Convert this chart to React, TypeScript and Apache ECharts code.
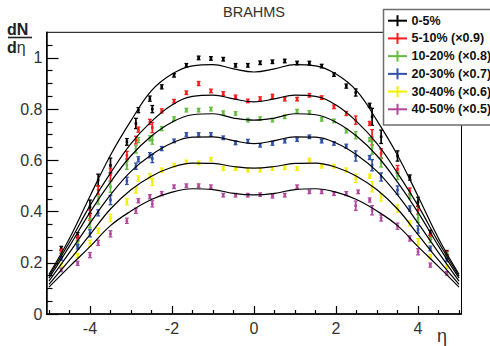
import React, { useEffect, useRef } from "react";
import * as echarts from "echarts";

const FONT = '"Liberation Sans", Arial, Helvetica, sans-serif';

const seriesNames = ["0-5%", "5-10% (×0.9)", "10-20% (×0.8)", "20-30% (×0.7)", "30-40% (×0.6)", "40-50% (×0.5)"];
const seriesColors = ["#000000", "#ff1a1a", "#62bf3e", "#2f50a8", "#f3ef00", "#b3469d"];

const eta = [-4.7, -4.3, -4.0, -3.8, -3.5, -3.1, -2.88, -2.82, -2.54, -2.48, -2.25, -1.95, -1.65, -1.35, -1.05, -0.75, -0.45, -0.15,
  0.15, 0.45, 0.75, 1.05, 1.35, 1.65, 1.95, 2.25, 2.48, 2.54, 2.82, 2.88, 3.1, 3.5, 3.8, 4.0, 4.3, 4.7];

const valBlack = [0.256, 0.308, 0.419, 0.523, 0.58, 0.672, 0.744, 0.796, 0.841, 0.80, 0.887, 0.932, 0.971, 1.0, 0.998, 0.995, 0.971, 0.971,
  0.981, 0.985, 0.988, 0.98, 0.98, 0.968, 0.935, 0.89, 0.865, null, 0.815, 0.77, 0.692, 0.617, 0.533, 0.438, 0.317, 0.24];
const errBlack = [0.008, 0.01, 0.026, 0.023, 0.029, 0.013, 0.02, 0.01, 0.01, 0.014, 0.008, 0.007, 0.007, 0.007, 0.007, 0.007, 0.007, 0.007,
  0.007, 0.007, 0.007, 0.007, 0.007, 0.007, 0.007, 0.008, 0.014, 0, 0.008, 0.033, 0.026, 0.02, 0.01, 0.018, 0.01, 0.008];

const valRed = [0.245, 0.295, 0.386, 0.484, 0.544, 0.62, 0.679, 0.72, 0.75, 0.728, 0.793, 0.831, 0.864, 0.90, 0.871, 0.861, 0.848, 0.832,
  0.841, 0.85, 0.839, 0.839, 0.854, 0.845, 0.809, 0.783, 0.757, null, 0.744, 0.69, 0.627, 0.565, 0.48, 0.406, 0.302, 0.237];
const errRed = [0.008, 0.01, 0.02, 0.016, 0.025, 0.015, 0.015, 0.01, 0.01, 0.02, 0.008, 0.007, 0.007, 0.008, 0.007, 0.007, 0.007, 0.007,
  0.007, 0.008, 0.007, 0.007, 0.007, 0.007, 0.007, 0.008, 0.016, 0, 0.008, 0.03, 0.018, 0.015, 0.012, 0.016, 0.01, 0.008];

const valGreen = [0.23, 0.276, 0.354, 0.445, 0.497, 0.581, 0.643, 0.679, 0.686, 0.679, 0.724, 0.763, 0.796, 0.796, 0.80, 0.786, 0.783, 0.757,
  0.763, 0.757, 0.77, 0.792, 0.787, 0.76, 0.754, 0.715, 0.698, null, 0.681, 0.65, 0.592, 0.54, 0.46, 0.373, 0.289, 0.23];
const errGreen = [0.008, 0.01, 0.018, 0.016, 0.022, 0.016, 0.014, 0.01, 0.01, 0.016, 0.008, 0.007, 0.007, 0.007, 0.007, 0.007, 0.007, 0.007,
  0.007, 0.007, 0.007, 0.007, 0.007, 0.007, 0.007, 0.008, 0.014, 0, 0.008, 0.026, 0.018, 0.015, 0.01, 0.015, 0.01, 0.008];

const valBlue = [0.217, 0.263, 0.315, 0.395, 0.445, 0.52, 0.577, 0.604, 0.62, 0.607, 0.646, 0.676, 0.701, 0.701, 0.701, 0.688, 0.668, 0.675,
  0.659, 0.666, 0.675, 0.681, 0.692, 0.675, 0.666, 0.655, 0.617, null, 0.611, 0.581, 0.535, 0.484, 0.412, 0.33, 0.256, 0.211];
const errBlue = [0.007, 0.009, 0.014, 0.012, 0.018, 0.014, 0.012, 0.01, 0.01, 0.016, 0.008, 0.007, 0.007, 0.007, 0.007, 0.007, 0.007, 0.007,
  0.007, 0.007, 0.007, 0.007, 0.007, 0.007, 0.007, 0.008, 0.02, 0, 0.008, 0.022, 0.016, 0.016, 0.01, 0.014, 0.009, 0.007];

const valYellow = [0.191, 0.228, 0.276, 0.325, 0.375, 0.438, 0.484, 0.529, 0.538, 0.516, 0.562, 0.581, 0.594, 0.59, 0.604, 0.568, 0.568, 0.562,
  0.562, 0.568, 0.571, 0.568, 0.601, 0.577, 0.577, 0.562, 0.53, null, 0.538, 0.497, 0.455, 0.412, 0.354, 0.282, 0.224, 0.185];
const errYellow = [0.007, 0.008, 0.012, 0.01, 0.014, 0.012, 0.012, 0.01, 0.01, 0.014, 0.008, 0.007, 0.007, 0.007, 0.007, 0.007, 0.007, 0.007,
  0.007, 0.007, 0.007, 0.007, 0.007, 0.007, 0.007, 0.008, 0.016, 0, 0.008, 0.02, 0.014, 0.014, 0.01, 0.012, 0.008, 0.007];

const valMagenta = [0.172, 0.198, 0.23, 0.278, 0.313, 0.364, 0.403, 0.442, 0.458, 0.43, 0.47, 0.497, 0.501, 0.501, 0.497, 0.464, 0.464, 0.464,
  0.466, 0.46, 0.464, 0.497, 0.477, 0.477, 0.47, 0.47, 0.423, 0.477, 0.445, 0.405, 0.375, 0.343, 0.295, 0.243, 0.191, 0.159];
const errMagenta = [0.007, 0.008, 0.01, 0.01, 0.012, 0.01, 0.01, 0.008, 0.008, 0.012, 0.008, 0.007, 0.007, 0.007, 0.007, 0.007, 0.007, 0.007,
  0.007, 0.007, 0.007, 0.007, 0.007, 0.007, 0.007, 0.008, 0.018, 0.007, 0.008, 0.018, 0.012, 0.012, 0.01, 0.012, 0.008, 0.007];

const curveEta = [-5, -4.5, -4, -3.5, -3, -2.5, -2, -1.5, -1, -0.5, 0, 0.5, 1, 1.5, 2, 2.5, 3, 3.5, 4, 4.5, 5];
const curveBlack = [0.155, 0.295, 0.46, 0.62, 0.755, 0.872, 0.937, 0.969, 0.974, 0.957, 0.945, 0.957, 0.974, 0.969, 0.937, 0.872, 0.755, 0.62, 0.46, 0.295, 0.155];
const curveRed = [0.148, 0.28, 0.423, 0.55, 0.665, 0.752, 0.816, 0.85, 0.855, 0.84, 0.828, 0.84, 0.855, 0.85, 0.816, 0.752, 0.665, 0.55, 0.423, 0.28, 0.148];
const curveGreen = [0.14, 0.265, 0.397, 0.515, 0.618, 0.695, 0.749, 0.778, 0.782, 0.765, 0.757, 0.765, 0.782, 0.778, 0.749, 0.695, 0.618, 0.515, 0.397, 0.265, 0.14];
const curveBlue = [0.128, 0.24, 0.355, 0.465, 0.557, 0.622, 0.668, 0.691, 0.692, 0.677, 0.665, 0.677, 0.692, 0.691, 0.668, 0.622, 0.557, 0.465, 0.355, 0.24, 0.128];
const curveYellow = [0.116, 0.21, 0.31, 0.41, 0.485, 0.538, 0.573, 0.589, 0.588, 0.576, 0.57, 0.576, 0.588, 0.589, 0.573, 0.538, 0.485, 0.41, 0.31, 0.21, 0.116];
const curveMagenta = [0.105, 0.185, 0.263, 0.345, 0.402, 0.447, 0.476, 0.489, 0.486, 0.471, 0.465, 0.471, 0.486, 0.489, 0.476, 0.447, 0.402, 0.345, 0.263, 0.185, 0.105];

const xMajor = [-4, -2, 0, 2, 4];
const xMinor = [-5, -4.5, -3.5, -3, -2.5, -1.5, -1, -0.5, 0.5, 1, 1.5, 2.5, 3, 3.5, 4.5, 5];
const yMajor = [0, 0.2, 0.4, 0.6, 0.8, 1];
const yMinor = [0.05, 0.1, 0.15, 0.25, 0.3, 0.35, 0.45, 0.5, 0.55, 0.65, 0.7, 0.75, 0.85, 0.9, 0.95, 1.05];

const X_MIN = -5.06;
const X_MAX = 5.06;
const Y_MIN = 0;
const Y_MAX = 1.1;

const allVals = [valBlack, valRed, valGreen, valBlue, valYellow, valMagenta];
const allErrs = [errBlack, errRed, errGreen, errBlue, errYellow, errMagenta];
const allCurves = [curveBlack, curveRed, curveGreen, curveBlue, curveYellow, curveMagenta];

export default function App() {
  const ref = useRef<HTMLDivElement>(null);
  useEffect(() => {
    const chart = echarts.init(ref.current!, null, { renderer: "svg" });

    const renderErr = (params: any, api: any) => {
      const x = api.value(0);
      const y = api.value(1);
      const e = api.value(2);
      const c = api.coord([x, y]);
      const t = api.coord([x, y + e]);
      const b = api.coord([x, y - e]);
      const color = api.visual("color");
      return {
        type: "group",
        children: [
          { type: "line", shape: { x1: c[0], y1: t[1], x2: c[0], y2: b[1] }, style: { stroke: color, lineWidth: 1.7 } },
          { type: "line", shape: { x1: c[0] - 1.9, y1: t[1], x2: c[0] + 1.9, y2: t[1] }, style: { stroke: color, lineWidth: 1.3 } },
          { type: "line", shape: { x1: c[0] - 1.9, y1: b[1], x2: c[0] + 1.9, y2: b[1] }, style: { stroke: color, lineWidth: 1.3 } },
          { type: "rect", shape: { x: c[0] - 1.3, y: c[1] - 1.3, width: 2.6, height: 2.6 }, style: { fill: color } },
        ],
      };
    };

    const series: any[] = [];
    allVals.forEach((vals, i) => {
      const data: any[] = [];
      vals.forEach((v, j) => {
        if (v !== null) data.push([eta[j], v, allErrs[i][j]]);
      });
      series.push({
        type: "custom",
        name: seriesNames[i],
        xAxisIndex: 0,
        yAxisIndex: 0,
        renderItem: renderErr,
        itemStyle: { color: seriesColors[i] },
        encode: { x: 0, y: 1 },
        data,
        z: 2,
        silent: true,
      });
    });
    allCurves.forEach((cv) => {
      series.push({
        type: "line",
        xAxisIndex: 0,
        yAxisIndex: 0,
        data: curveEta.map((e, j) => [e, cv[j]]),
        smooth: 0.4,
        showSymbol: false,
        symbol: "none",
        lineStyle: { color: "#000", width: 1.2 },
        z: 3,
        silent: true,
      });
    });

    const legendChildren: any[] = [
      {
        type: "rect",
        shape: { x: 383.5, y: 9.5, width: 120, height: 115.5 },
        style: { fill: "#fff", stroke: "#6e6e6e", lineWidth: 1.5 },
      },
    ];
    seriesNames.forEach((name, i) => {
      const y = 20.7 + i * 17.72;
      legendChildren.push(
        { type: "line", shape: { x1: 388, y1: y, x2: 407, y2: y }, style: { stroke: seriesColors[i], lineWidth: 2 } },
        { type: "line", shape: { x1: 397.5, y1: y - 5.5, x2: 397.5, y2: y + 5.5 }, style: { stroke: seriesColors[i], lineWidth: 2 } },
        {
          type: "text",
          x: 411.5,
          y: y,
          style: { text: name, fontFamily: FONT, fontSize: 12.5, fontWeight: "bold", fill: "#111", verticalAlign: "middle", align: "left" },
        }
      );
    });

    const option: any = {
      animation: false,
      backgroundColor: "#fff",
      grid: {
        left: 46.5,
        right: 28.5,
        top: 32.3,
        bottom: 32,
        show: true,
        borderColor: "#000",
        borderWidth: 1,
        backgroundColor: "transparent",
      },
      xAxis: [
        {
          type: "value",
          min: X_MIN,
          max: X_MAX,
          position: "bottom",
          axisLine: { show: true, onZero: false, lineStyle: { color: "#000", width: 1.5 } },
          axisTick: { show: true, inside: true, length: 8, customValues: xMajor, lineStyle: { color: "#000", width: 1.2 } },
          axisLabel: { show: true, customValues: xMajor, margin: 6, fontFamily: FONT, fontSize: 16, color: "#333", formatter: (v: number) => String(v) },
          splitLine: { show: false },
        },
        {
          type: "value",
          min: X_MIN,
          max: X_MAX,
          position: "bottom",
          offset: 0,
          axisLine: { show: false, onZero: false },
          axisTick: { show: true, inside: true, length: 4, customValues: xMinor, lineStyle: { color: "#000", width: 1.2 } },
          axisLabel: { show: false },
          splitLine: { show: false },
        },
      ],
      yAxis: [
        {
          type: "value",
          min: Y_MIN,
          max: Y_MAX,
          position: "left",
          axisLine: { show: true, onZero: false, lineStyle: { color: "#000", width: 1.5 } },
          axisTick: { show: true, inside: true, length: 12, customValues: yMajor, lineStyle: { color: "#000", width: 1.2 } },
          axisLabel: { show: true, customValues: yMajor, margin: 4, fontFamily: FONT, fontSize: 16, color: "#333", formatter: (v: number) => String(v) },
          splitLine: { show: false },
        },
        {
          type: "value",
          min: Y_MIN,
          max: Y_MAX,
          position: "left",
          offset: 0,
          axisLine: { show: false, onZero: false },
          axisTick: { show: true, inside: true, length: 6, customValues: yMinor, lineStyle: { color: "#000", width: 1.2 } },
          axisLabel: { show: false },
          splitLine: { show: false },
        },
      ],
      series,
      graphic: [
        {
          type: "text",
          x: 254,
          y: 4,
          z: 100,
          style: { text: "BRAHMS", fontFamily: FONT, fontSize: 14.5, fill: "#333", align: "center", verticalAlign: "top" },
        },
        {
          type: "text",
          x: 7,
          y: 21.5,
          z: 100,
          style: { text: "dN", fontFamily: FONT, fontSize: 16, fontWeight: "bold", fill: "#222", align: "left", verticalAlign: "top" },
        },
        { type: "line", z: 100, shape: { x1: 8, y1: 37.5, x2: 32, y2: 37.5 }, style: { stroke: "#222", lineWidth: 1.6 } },
        {
          type: "text",
          x: 7,
          y: 39.5,
          z: 100,
          style: {
            text: "{a|d}{b|η}",
            fontFamily: FONT,
            fill: "#222",
            align: "left",
            verticalAlign: "top",
            rich: {
              a: { fontFamily: FONT, fontSize: 16, fontWeight: "bold", fill: "#222" },
              b: { fontFamily: FONT, fontSize: 16, fill: "#333" },
            },
          },
        },
        {
          type: "text",
          x: 442,
          y: 336,
          z: 100,
          style: { text: "η", fontFamily: FONT, fontSize: 18, fill: "#333", align: "center", verticalAlign: "middle" },
        },
        { type: "group", z: 100, children: legendChildren },
      ],
    };
    chart.setOption(option);
    return () => chart.dispose();
  }, []);
  return <div ref={ref} style={{ position: "fixed", left: 0, top: 0, width: 490, height: 346, background: "#fff" }} />;
}
